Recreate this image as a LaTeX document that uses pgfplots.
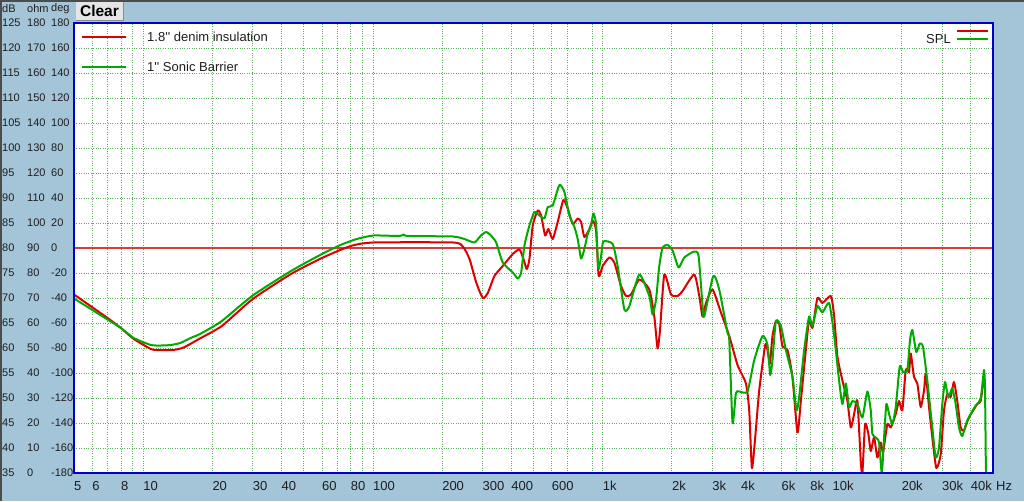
\documentclass[border=0pt]{standalone}
\usepackage{pgfplots}
\pgfplotsset{compat=1.18}
\usepackage{fontspec}
\newfontfamily\uifont{Liberation Sans}
\definecolor{bgblue}{RGB}{164,196,216}
\definecolor{frameblue}{RGB}{0,0,205}
\definecolor{gridgreen}{RGB}{90,175,90}
\definecolor{refline}{RGB}{215,60,60}
\definecolor{curvered}{RGB}{220,0,0}
\definecolor{curvegreen}{RGB}{0,170,0}
\definecolor{txt}{RGB}{30,30,30}
\newcommand\fs[1]{\fontsize{#1}{#1}\selectfont}
\newcommand\yl[3]{\makebox[25pt][l]{#1}\makebox[24pt][l]{#2}#3}

\begin{document}
\begin{tikzpicture}[x=1pt,y=1pt]
% window background
\fill[bgblue] (0,0) rectangle (1024,501);
\fill[black!70] (0,0) rectangle (1.8,501);
\fill[black!70] (0,499.4) rectangle (1024,501);

% column headers and button
\node[anchor=west,inner sep=0pt,text=txt,font=\uifont\fs{11}] at (2,492.5) {dB};
\node[anchor=west,inner sep=0pt,text=txt,font=\uifont\fs{11}] at (27,492.5) {ohm};
\node[anchor=west,inner sep=0pt,text=txt,font=\uifont\fs{11}] at (51,492.5) {deg};
\fill[black!10] (76,481) rectangle (123,499.4);
\draw[black!45,line width=0.8pt] (76,481) -- (123,481) -- (123,499.4);
\node[inner sep=0pt,font=\uifont\bfseries\fs{15.5}] at (99.5,490) {Clear};

\begin{axis}[
  name=ax,
  at={(74pt,28pt)}, anchor=south west,
  scale only axis, width=919pt, height=450pt,
  xmode=log, xmin=5, xmax=50000, ymin=35, ymax=125,
  axis background/.style={fill=white},
  axis line style={draw=none},
  tick style={draw=none},
  xtick={5,6,8,10,20,30,40,60,80,100,200,300,400,600,1000,2000,3000,4000,6000,8000,10000,20000,30000,40000},
  xticklabels={5,6,8,10,20,30,40,60,80,100,200,300,400,600,1k,2k,3k,4k,6k,8k,10k,20k,30k,40k},
  minor xtick={7,9,50,70,90,500,700,900,5000,7000,9000},
  ytick={35,40,...,125},
  yticklabels={\yl{35}{0}{-180},\yl{40}{10}{-160},\yl{45}{20}{-140},\yl{50}{30}{-120},
    \yl{55}{40}{-100},\yl{60}{50}{-80},\yl{65}{60}{-60},\yl{70}{70}{-40},\yl{75}{80}{-20},
    \yl{80}{90}{0},\yl{85}{100}{20},\yl{90}{110}{40},\yl{95}{120}{60},\yl{100}{130}{80},
    \yl{105}{140}{100},\yl{110}{150}{120},\yl{115}{160}{140},\yl{120}{170}{160},\yl{125}{180}{180}},
  xticklabel style={anchor=north west,inner sep=0pt,yshift=-8pt,text=txt,font=\uifont\fs{13}},
  yticklabel style={anchor=west,inner sep=0pt,xshift=-72pt,text=txt,font=\uifont\fs{11}},
  grid=both,
  major grid style={gridgreen,dotted,line width=0.8pt},
  minor grid style={gridgreen,dotted,line width=0.8pt},
  every axis plot/.append style={line join=round},
]
% 80 dB reference line
\addplot[refline,line width=1.3pt] coordinates {(5,80) (50000,80)};
% 1.8'' denim insulation
\addplot[curvered,line width=2pt,smooth,tension=0.35] coordinates {
(5,70.7) (7,66.0) (8,64.0) (9.1,61.8) (10.8,59.8) (11.5,59.6) (13.5,59.6) (15,60.1)
(17.5,61.8) (22,64.4) (30,69.8) (44,74.8) (60,78.0) (80,80.4) (100.7,81.1) (222.7,81.1)
(246.2,80.3) (263.3,77.8) (281.6,73.1) (300.8,70.0) (316.2,71.0) (338.1,74.4) (367.4,76.4)
(406.2,78.8) (434.4,79.7) (452.1,77.8) (467.2,75.8) (480,77.8) (496.2,84.5) (521.7,87.5)
(539.7,86.5) (561.8,82.5) (580.6,83.8) (606.1,81.8) (637.2,85.2) (674.7,89.6) (704.4,87.9)
(740.6,84.8) (778.6,85.9) (805.6,85.2) (832.6,82.2) (875.4,83.8) (904.7,85.5) (936.1,83.5)
(960.8,74.4) (1000,76.4) (1069,78.1) (1124,77.1) (1202,72.4) (1264,70.4) (1329,70.7)
(1444,73.7) (1596,71.7) (1678,66.3) (1734,59.9) (1777,63.6) (1855,74.7) (1984,70.7)
(2119,70.4) (2227,71.4) (2504,74.7) (2633,70.4) (2722,66.3) (2816,69.0) (3008,71.7)
(3271,67.1) (3556,62.4) (3864,56.6) (4203,52.9) (4344,47.5) (4463,36.0) (4612,42.1)
(4801,51.5) (5099,60.6) (5218,59.6) (5344,56.9) (5485,62.4) (5675,65.4) (5866,64.8)
(6062,60.3) (6373,59.6) (6700,54.2) (7044,43.1) (7288,49.4) (7662,59.6) (7919,65.7)
(8185,64.0) (8606,70.0) (9048,69.0) (9840,70.4) (10170,66.5) (10512,58.3) (11053,53.5)
(11620,49.4) (12023,44.1) (12427,46.8) (12845,49.4) (13290,37.2) (13504,35.0) (13874,44.8)
(14339,42.8) (14689,39.4) (15182,42.1) (15694,38.1) (16234,41.1) (16612,39.1) (17343,44.8)
(17944,44.1) (18867,46.8) (19498,49.4) (20150,47.5) (20849,55.6) (21552,55.2) (21922,58.9)
(22657,54.2) (23418,52.9) (24227,48.2) (25043,51.5) (25473,54.8) (26327,48.2) (27214,42.1)
(28326,36.0) (29599,38.7) (30597,47.5) (31623,50.8) (32718,50.2) (33813,53.2) (34953,49.4)
(36165,44.1) (37381,43.5) (39292,46.1) (42705,48.8) (44186,49.4) (45674,54.2)
};
% 1'' Sonic Barrier
\addplot[curvegreen,line width=2pt,smooth,tension=0.35] coordinates {
(5,69.9) (7,65.7) (8,64.0) (9.1,62.0) (10.8,60.6) (12,60.5) (13.2,60.6) (14.5,61.0)
(16.1,62.0) (17.5,62.7) (19,63.6) (22,65.4) (30,70.5) (44,75.4) (60,78.8) (72.2,80.6)
(85,81.8) (100.7,82.5) (130.6,82.4) (136,82.7) (142,82.4)
(222.7,82.3) (250,81.8) (276.8,81.1) (295,82.5) (311.2,83.2) (325,82.6) (344,81.1)
(367.4,77.1) (406.2,75.1) (427,73.9) (441.8,75.1) (456.6,80.5) (480,84.5) (504.7,87.2)
(530.6,86.5) (557.8,85.9) (576.6,88.2) (606.1,88.5) (648.2,92.6) (681.5,91.2) (716.5,86.5)
(753.4,84.2) (778.6,81.8) (805.6,77.9) (832.6,79.8) (860.6,82.8) (890.4,84.5) (911.1,86.9)
(936.1,84.8) (957.9,75.8) (984.4,78.4) (1007,81.3) (1105,80.8) (1162,76.4) (1243,67.7)
(1307,68.4) (1444,74.7) (1596,70.4) (1650,66.7) (1707,69.7) (1764,76.4) (1823,80.1)
(1917,80.6) (2016,79.5) (2140,76.1) (2266,78.1) (2504,79.3) (2615,78.4) (2722,68.4)
(2768,66.3) (3029,74.4) (3216,71.7) (3496,63.0) (3556,61.7) (3675,45.0) (3802,51.0)
(3930,51.3) (4270,51.3) (4567,57.6) (4963,62.4) (5218,60.6) (5360,54.6) (5485,57.6)
(5675,65.4) (5967,64.4) (6272,59.6) (6700,54.2) (6975,47.5) (7165,50.2) (7534,59.6)
(7919,66.3) (8185,64.4) (8606,68.4) (9048,67.1) (9676,69.0) (10170,62.6) (10693,53.5)
(11053,48.8) (11436,52.9) (11820,48.2) (12218,49.4) (12845,48.8) (13504,46.1) (14197,51.3)
(14689,47.5) (14925,42.8) (15443,42.1) (15960,41.1) (16399,35.0) (16781,42.1) (17171,48.8)
(17641,46.8) (18235,44.8) (18867,48.2) (19634,56.3) (20294,55.2) (21187,55.6) (21767,61.6)
(22273,63.6) (23184,59.2) (23988,60.9) (24791,60.2) (25882,53.5) (27214,44.1) (28157,38.1)
(29099,40.1) (30081,48.8) (30903,53.2) (31938,50.2) (33242,51.9) (34394,48.8) (35554,44.1)
(36748,42.4) (38637,45.5) (42030,48.5) (44186,49.8) (45674,55.6) (46129,52.3) (46452,40.5)
(46733,35.0) (49475,35.0)
};
\end{axis}
\draw[frameblue,line width=2pt] (ax.south west) rectangle (ax.north east);

% legend
\draw[curvered,line width=2pt] (82,464) -- (126,464);
\node[anchor=west,inner sep=0pt,text=txt,font=\uifont\fs{13}] at (147,464) {1.8'' denim insulation};
\draw[curvegreen,line width=2pt] (82,434) -- (126,434);
\node[anchor=west,inner sep=0pt,text=txt,font=\uifont\fs{13}] at (147,434) {1'' Sonic Barrier};
\node[anchor=east,inner sep=0pt,text=txt,font=\uifont\fs{13}] at (951,462) {SPL};
\draw[curvered,line width=2pt] (957,470) -- (988,470);
\draw[curvegreen,line width=2pt] (957,462.3) -- (988,462.3);
\node[anchor=west,inner sep=0pt,text=txt,font=\uifont\fs{13}] at (996,14.5) {Hz};

\pgfresetboundingbox
\path[use as bounding box] (0,0) rectangle (1024,501);
\end{tikzpicture}
\end{document}
